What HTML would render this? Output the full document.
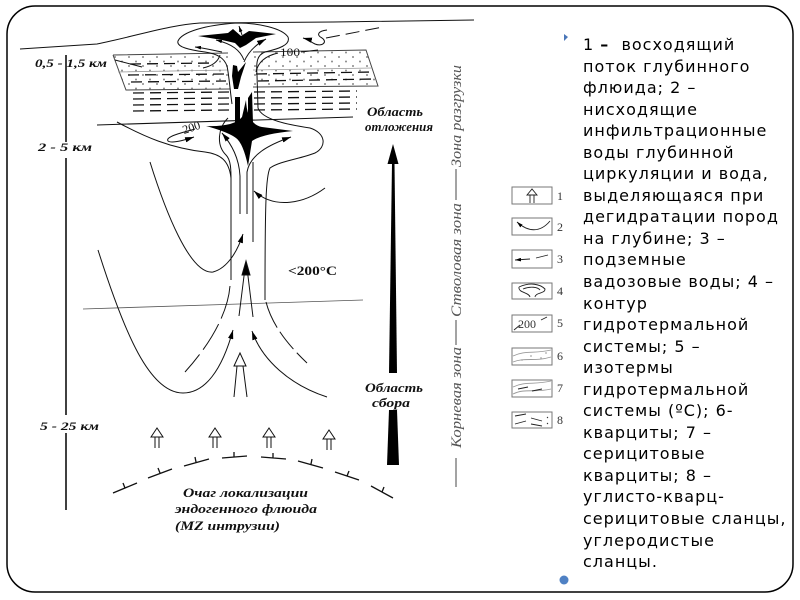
<!DOCTYPE html>
<html><head><meta charset="utf-8"><style>
html,body{margin:0;padding:0;background:#fff;}
body{width:800px;height:600px;position:relative;overflow:hidden;}
.txt{position:absolute;left:583px;top:34px;font-family:"DejaVu Sans","Liberation Sans",sans-serif;font-size:16px;line-height:21.55px;letter-spacing:1px;color:#000;white-space:pre;}
</style></head><body>
<svg width="800" height="600" viewBox="0 0 800 600" style="position:absolute;left:0;top:0">
<defs>
<marker id="ah" viewBox="0 0 10 6" refX="10" refY="3" markerWidth="9" markerHeight="5.4" orient="auto" markerUnits="userSpaceOnUse"><path d="M0,0 L10,3 L0,6 Z" fill="#000"/></marker>
<marker id="ahs" viewBox="0 0 10 6" refX="10" refY="3" markerWidth="6" markerHeight="3.6" orient="auto" markerUnits="userSpaceOnUse"><path d="M0,0 L10,3 L0,6 Z" fill="#000"/></marker>
<pattern id="dots" width="14" height="9" patternUnits="userSpaceOnUse"><circle cx="3" cy="3" r="1" fill="#8a8a8a"/><circle cx="10" cy="7.5" r="1" fill="#8a8a8a"/></pattern>
</defs>

<!-- frame -->
<rect x="7" y="6" width="786" height="586" rx="28" ry="28" fill="none" stroke="#000" stroke-width="1.5"/>

<g fill="none" stroke="#111" stroke-width="1">
<!-- surface -->
<path d="M20,49 L97,44 C140,35 170,25 200,23 L333,22 L474,20"/>
<!-- depth axis -->
<line x1="66" y1="55" x2="66" y2="142" stroke-width="1.6"/>
<line x1="66" y1="158" x2="66" y2="415" stroke-width="1.6"/>
<line x1="66" y1="433" x2="66" y2="510" stroke-width="1.6"/>

<!-- band (quartzite) -->
<path d="M113,55 L228,53 L230,89 L126,90 Z" fill="url(#dots)" stroke="none"/>
<path d="M253,52 L366,50 L378,86 L253,87 Z" fill="url(#dots)" stroke="none"/>
<path d="M113,55 L228,53 M253,52 L366,50 L378,86 L253,87 M230,89 L126,90 L113,55" stroke="#444"/>
<path d="M118,72 L228,70 M253,70 L372,68" stroke="#999" stroke-width="0.8"/>
<path d="M115,60 L142,67" />
<g stroke-width="1.3" stroke-dasharray="11 6">
<line x1="130" y1="64" x2="215" y2="63"/>
<line x1="128" y1="75" x2="226" y2="74"/><line x1="256" y1="74" x2="372" y2="72"/>
<line x1="131" y1="82" x2="226" y2="81"/><line x1="258" y1="81" x2="374" y2="79"/>
<line x1="133" y1="93" x2="229" y2="92"/><line x1="254" y1="92" x2="357" y2="91"/>
<line x1="133" y1="99" x2="229" y2="98"/><line x1="254" y1="98" x2="357" y2="97"/>
<line x1="133" y1="105" x2="229" y2="104"/><line x1="254" y1="104" x2="357" y2="103"/>
<line x1="133" y1="111" x2="229" y2="110"/><line x1="254" y1="110" x2="357" y2="109"/>
</g>
<!-- horizontal boundary -->
<path d="M97,125 L353,117"/>
<!-- faint isoline -->
<path d="M83,309 L363,300" stroke="#555" stroke-width="0.8"/>

<!-- outer contour top -->
<path d="M232,104 C230,90 229,75 227,66 C224,58 218,54 205,52 C190,50 176,47 178,41 C182,32 205,25 237,23 C258,23 282,28 288,37 C291,45 278,49 265,52 C257,55 256,62 257,75 L258,108 C262,120 290,125 310,128 C326,133 327,147 315,153 C300,159 280,161 270,168 C266,176 265,200 265,300"/>
<path d="M266,302 C272,325 288,345 307,363" stroke-dasharray="28 5 22 5"/>
<!-- inner left contour near star -->
<path d="M228,118 C218,128 216,145 226,155 C231,160 231,170 231,180"/>
<!-- isotherm 200 / left column line -->
<path d="M117,122 C145,137 170,148 205,152 C220,154 229,160 231,178 L231,280"/>
<path d="M230,286 C228,310 214,340 185,372" stroke-dasharray="34 6 30 6"/>
<!-- isotherm 100 -->
<path d="M256,72 C258,62 265,56 278,53 M301,52 L318,50"/>
<!-- inner top curves -->
<path d="M203,68 C212,66 218,62 220,55"/>
<path d="M244,60 C240,50 232,44 216,40" marker-end="url(#ahs)"/>
<path d="M244,62 C248,52 255,45 266,39" marker-end="url(#ah)"/>
<path d="M242,35 L239,26" marker-end="url(#ahs)"/>
<path d="M222,52 C212,50 204,48 195,47" marker-end="url(#ahs)"/>
<!-- groundwater dashed arrow -->
<path d="M327,30 C318,31 316,35 322,38 C328,42 322,47 315,44 C311,42 307,39 303,38" marker-end="url(#ah)"/>
<path d="M326,38 L383,27" stroke-dasharray="14 6"/>
<!-- loop near 200 -->
<path d="M195,129 C180,133 165,137 168,141 C172,144 185,140 194,137" marker-end="url(#ah)"/>
<!-- column lines and arrows from star -->
<path d="M240,214 L240,176 C239,158 232,145 222,133" marker-end="url(#ah)"/>
<path d="M247,214 L247,172 C250,155 268,145 291,137" marker-end="url(#ah)"/>
<path d="M253,242 L253,162"/>
<path d="M325,188 C305,203 275,210 254,191" marker-end="url(#ah)"/>
<!-- upper left U -->
<path d="M150,162 C165,210 190,275 213,272 C228,268 238,250 243,234" marker-end="url(#ah)"/>
<!-- big lower left U -->
<path d="M98,250 C125,335 150,393 183,393 C205,393 222,370 233,330" marker-end="url(#ah)"/>
<!-- lower right curve -->
<path d="M327,397 C290,385 262,360 252,331" marker-end="url(#ah)"/>
<!-- central arrow -->
<path d="M239,316 L245,268 M253,317 L247,268"/>
<path d="M246,261 L242,275 L250,275 Z" fill="#000"/>
<!-- hollow double arrow -->
<path d="M240,353 L246,366 L234,366 Z" fill="#fff"/>
<path d="M237,366 L234,397 M243,366 L247,397"/>

<!-- ochag dashed arc -->
<g stroke-width="1.3">
<path d="M113,493 L137,483 M125,488 L123,483"/>
<path d="M148,478 L172,469 M160,473 L158,468"/>
<path d="M184,466 L209,459 M196,462 L195,457"/>
<path d="M222,458 L247,456 M234,457 L234,452"/>
<path d="M261,457 L286,459 M273,458 L273,453"/>
<path d="M298,461 L323,468 M311,464 L312,459"/>
<path d="M335,472 L359,480 M347,476 L349,471"/>
<path d="M371,486 L393,498 M382,492 L384,487"/>
</g>
<!-- hollow arrows -->
<g>
<path d="M151,437 L157,428 L163,437 Z" fill="#fff"/><path d="M155,437 L155,448 M159,437 L159,448"/>
<path d="M209,437 L215,428 L221,437 Z" fill="#fff"/><path d="M213,437 L213,448 M217,437 L217,448"/>
<path d="M263,437 L269,428 L275,437 Z" fill="#fff"/><path d="M267,437 L267,448 M271,437 L271,448"/>
<path d="M323,439 L329,430 L335,439 Z" fill="#fff"/><path d="M327,439 L327,450 M331,439 L331,450"/>
</g>
</g>

<!-- black ore bodies -->
<g fill="#000" stroke="none">
<path d="M198,36 L228,33 L233,29 L241,36 L249,31 L276,34 L256,38 L246,45 L240,48 L235,43 L222,40 Z"/>
<path d="M233,65 L237,66 L238,72 L246,62 L241,77 L238,89 L234,89 L232,76 Z"/>
<rect x="235" y="97" width="5" height="26"/>
<path d="M248,123 L248,98 L252,92 L253,123 Z"/>
<path d="M206,126 Q234,127 242,117 L246,100 Q247,124 262,127 L293,131 Q262,134 252,141 L248,166 Q243,143 236,138 Q228,132 206,126 Z"/>
</g>

<!-- big tapered arrow -->
<g fill="#000">
<path d="M393,144 L398.5,164 L387.5,164 Z"/>
<path d="M392,163 L394.5,163 L397,373 L389,373 Z"/>
<path d="M389,410 L397,410 L399,465 L387,465 Z"/>
</g>

<!-- labels -->
<g font-family="'Liberation Serif','DejaVu Serif',serif" font-weight="bold" font-style="italic" fill="#111">
<text x="35" y="67" font-size="11.5" textLength="72" lengthAdjust="spacingAndGlyphs">0,5 - 1,5 км</text>
<text x="38" y="151" font-size="11.5" textLength="54" lengthAdjust="spacingAndGlyphs">2 - 5 км</text>
<text x="40" y="430" font-size="11.5" textLength="59" lengthAdjust="spacingAndGlyphs">5 - 25 км</text>
<text x="367" y="116" font-size="13" textLength="56" lengthAdjust="spacingAndGlyphs">Область</text>
<text x="365" y="131" font-size="13" textLength="68" lengthAdjust="spacingAndGlyphs">отложения</text>
<text x="365" y="392" font-size="13" textLength="58" lengthAdjust="spacingAndGlyphs">Область</text>
<text x="372" y="407" font-size="13" textLength="38" lengthAdjust="spacingAndGlyphs">сбора</text>
<text x="183" y="497" font-size="13" textLength="125" lengthAdjust="spacingAndGlyphs">Очаг локализации</text>
<text x="175" y="513" font-size="13" textLength="142" lengthAdjust="spacingAndGlyphs">эндогенного флюида</text>
<text x="175" y="530" font-size="13" textLength="105" lengthAdjust="spacingAndGlyphs">(MZ интрузии)</text>
</g>
<text x="288" y="275" font-family="'Liberation Serif',serif" font-weight="bold" font-size="13" textLength="49" lengthAdjust="spacingAndGlyphs" fill="#111">&lt;200°C</text>
<text x="280" y="56" font-family="'Liberation Serif',serif" font-size="12" textLength="20" lengthAdjust="spacingAndGlyphs" fill="#111">100</text>
<text x="184" y="134" font-family="'Liberation Serif',serif" font-size="12" fill="#111" transform="rotate(-18 184 134)">200</text>

<!-- vertical zone labels -->
<g font-family="'Liberation Serif',serif" font-style="italic" font-size="15" fill="#555">
<text transform="translate(461,167) rotate(-90)" textLength="102" lengthAdjust="spacingAndGlyphs">Зона разгрузки</text>
<text transform="translate(461,317) rotate(-90)" textLength="114" lengthAdjust="spacingAndGlyphs">Стволовая зона</text>
<text transform="translate(461,448) rotate(-90)" textLength="101" lengthAdjust="spacingAndGlyphs">Корневая зона</text>
</g>
<g stroke="#666" stroke-width="1.2">
<line x1="456" y1="169" x2="456" y2="200"/>
<line x1="456" y1="320" x2="456" y2="345"/>
<line x1="456" y1="458" x2="456" y2="487"/>
</g>

<!-- legend -->
<g fill="#fff" stroke="#777" stroke-width="1">
<rect x="512" y="187" width="40" height="17"/>
<rect x="512" y="218" width="40" height="17"/>
<rect x="512" y="250" width="40" height="18"/>
<rect x="512" y="283" width="40" height="16"/>
<rect x="512" y="315" width="40" height="17"/>
<rect x="512" y="348" width="40" height="17"/>
<rect x="512" y="380" width="40" height="17"/>
<rect x="512" y="412" width="40" height="16"/>
</g>
<g fill="none" stroke="#222" stroke-width="0.9">
<path d="M527,195 L532,189 L537,195 Z" fill="#fff"/><path d="M530,195 L530,203 M534,195 L534,203"/>
<path d="M550,221 C540,233 528,232 517,222" marker-end="url(#ahs)"/>
<path d="M530,259 L515,260" marker-end="url(#ahs)"/><path d="M536,258 L548,255"/>
<path d="M519,287 C530,282 540,284 545,289 C545,294 536,292 535,297 M519,287 C518,293 529,292 530,297 M523,289 C530,286 538,287 540,290"/>
<path d="M514,330 L520,325 M541,320 L547,317"/>
<path d="M513,356 C525,350 535,354 551,350 M513,362 C525,357 535,362 551,357" stroke="#999"/>
<path d="M513,387 C525,381 535,385 551,381 M513,394 C525,388 535,393 551,389" stroke="#999"/>
<path d="M518,389 L528,387 M532,391 L542,389"/>
<path d="M515,416 L526,414 M515,424 L526,421 M531,418 L542,421 M531,424 L542,426 M547,417 L548,418 M547,423 L548,424"/>
</g>
<g fill="#aaa"><circle cx="522" cy="360" r="0.9"/><circle cx="531" cy="356" r="0.9"/><circle cx="541" cy="358" r="0.9"/><circle cx="546" cy="353" r="0.9"/></g>
<text x="518" y="328" font-family="'Liberation Serif',serif" font-size="12" fill="#333">200</text>
<g font-family="'Liberation Serif',serif" font-size="12" fill="#333">
<text x="557" y="200">1</text><text x="557" y="231">2</text><text x="557" y="263">3</text><text x="557" y="295">4</text>
<text x="557" y="327">5</text><text x="557" y="360">6</text><text x="557" y="392">7</text><text x="557" y="424">8</text>
</g>

<!-- bullets -->
<path d="M564,34 L568,37 L564,41 Z" fill="#4a76b8"/>
<circle cx="564" cy="580" r="4.5" fill="#4f81c4"/>
</svg>

<div class="txt">1 <b>–</b>  восходящий
поток глубинного
флюида; 2 –
нисходящие
инфильтрационные
воды глубинной
циркуляции и вода,
выделяющаяся при
дегидратации пород
на глубине; 3 –
подземные
вадозовые воды; 4 –
контур
гидротермальной
системы; 5 –
изотермы
гидротермальной
системы (ºС); 6-
кварциты; 7 –
серицитовые
кварциты; 8 –
углисто-кварц-
серицитовые сланцы,
углеродистые
сланцы.</div>
</body></html>
